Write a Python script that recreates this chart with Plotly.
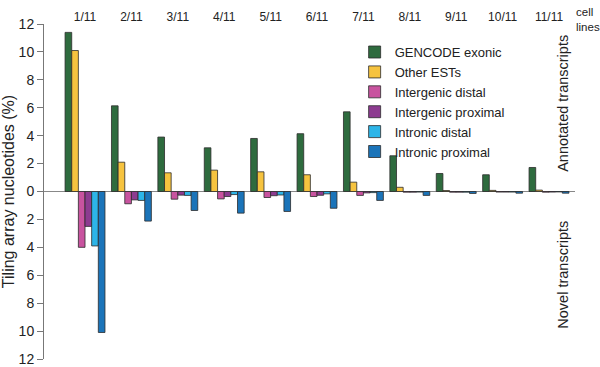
import plotly.graph_objects as go

categories = ["1/11", "2/11", "3/11", "4/11", "5/11", "6/11", "7/11", "8/11", "9/11", "10/11", "11/11"]

gencode_exonic = [11.4, 6.14, 3.9, 3.13, 3.8, 4.14, 5.71, 2.56, 1.29, 1.2, 1.72]
other_ests = [10.1, 2.1, 1.34, 1.53, 1.41, 1.2, 0.67, 0.3, 0.07, 0.08, 0.1]
intergenic_distal = [4.0, 0.88, 0.55, 0.53, 0.43, 0.36, 0.28, 0.05, 0.05, 0.04, 0.05]
intergenic_proximal = [2.5, 0.6, 0.26, 0.36, 0.3, 0.27, 0.1, 0.05, 0.05, 0.04, 0.04]
intronic_distal = [3.9, 0.64, 0.28, 0.22, 0.25, 0.17, 0.08, 0.04, 0.05, 0.04, 0.03]
intronic_proximal = [10.1, 2.12, 1.36, 1.55, 1.43, 1.2, 0.64, 0.28, 0.14, 0.12, 0.12]

y_tick_vals = [-12, -10, -8, -6, -4, -2, 0, 2, 4, 6, 8, 10, 12]
y_tick_text = ["12", "10", "8", "6", "4", "2", "0", "2", "4", "6", "8", "10", "12"]

series = [
    ("GENCODE exonic", gencode_exonic, 1, "#2e6b3e"),
    ("Other ESTs", other_ests, 1, "#f6c33f"),
    ("Intergenic distal", intergenic_distal, -1, "#c8539f"),
    ("Intergenic proximal", intergenic_proximal, -1, "#8d3b90"),
    ("Intronic distal", intronic_distal, -1, "#2db5e8"),
    ("Intronic proximal", intronic_proximal, -1, "#1b74b9"),
]

FONT = "Liberation Sans, Arial, sans-serif"

fig = go.Figure()
for name, vals, sign, color in series:
    fig.add_trace(go.Bar(
        x=categories,
        y=[sign * v for v in vals],
        name=name,
        marker=dict(color=color, line=dict(color="#2b2b2b", width=0.8)),
    ))

fig.update_layout(
    width=600, height=367,
    margin=dict(l=44, r=25, t=24, b=8),
    paper_bgcolor="white", plot_bgcolor="white",
    barmode="group", bargap=0.14, bargroupgap=0,
    font=dict(family=FONT, color="#222"),
    showlegend=True,
    legend=dict(
        x=0.585, y=0.961, xanchor="left", yanchor="top",
        font=dict(size=13, family=FONT, color="#222"),
        bgcolor="rgba(0,0,0,0)", tracegroupgap=0, itemwidth=30,
    ),
    xaxis=dict(
        side="top", range=[-0.884, 10.56], showline=False, showgrid=False,
        ticks="", tickfont=dict(size=12, family=FONT, color="#222"),
        zeroline=False, automargin=False,
    ),
    yaxis=dict(
        range=[-12, 12], tickvals=y_tick_vals, ticktext=y_tick_text,
        showgrid=False, showline=True, linecolor="#777", linewidth=1,
        ticks="outside", ticklen=6, tickcolor="#777",
        tickfont=dict(size=14, family=FONT, color="#222"),
        zeroline=True, zerolinecolor="#888", zerolinewidth=1.2,
        automargin=False,
        title=dict(text="Tiling array nucleotides (%)", font=dict(size=16, family=FONT, color="#222"), standoff=1),
    ),
    annotations=[
        dict(text="Annotated transcripts", xref="paper", yref="paper", x=0.977, y=0.764,
             textangle=-90, showarrow=False, xanchor="center", yanchor="middle",
             font=dict(size=14.5, family=FONT, color="#222")),
        dict(text="Novel transcripts", xref="paper", yref="paper", x=0.977, y=0.251,
             textangle=-90, showarrow=False, xanchor="center", yanchor="middle",
             font=dict(size=14.5, family=FONT, color="#222")),
        dict(text="cell<br>lines", xref="paper", yref="paper", x=0.998, y=1.012,
             showarrow=False, xanchor="left", yanchor="middle", align="left",
             font=dict(size=11.5, family=FONT, color="#222")),
    ],
)

fig.write_html("out.html", config={"displayModeBar": False},
               post_script="document.body.style.margin='0';")
